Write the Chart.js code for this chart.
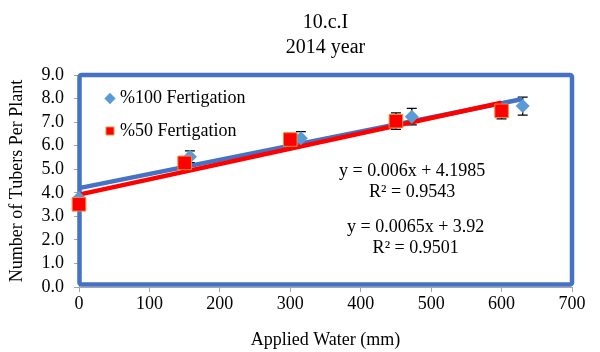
<!DOCTYPE html>
<html>
<head>
<meta charset="utf-8">
<script src="https://cdn.jsdelivr.net/npm/chart.js@4/dist/chart.umd.min.js"></script>
<style>
  html, body { margin: 0; padding: 0; background: #fff; }
  #wrap { width: 600px; height: 352px; }
</style>
</head>
<body>
<div id="wrap"><canvas id="c" width="600" height="352"></canvas></div>
<script>
// ---- data ----
const titleLines = ['10.c.I', '2014 year'];
const xAxisTitle = 'Applied Water (mm)';
const yAxisTitle = 'Number of Tubers Per Plant';
const seriesNames = ['%100 Fertigation', '%50 Fertigation'];

const waterFull = [0, 157.5, 315, 472.5, 630];
const tubersFull = [3.78, 5.53, 6.31, 7.23, 7.68];
const errFull = [0, 0.25, 0.29, 0.35, 0.38];

const waterHalf = [0, 150, 300, 450, 600];
const tubersHalf = [3.51, 5.27, 6.26, 7.04, 7.48];
const errHalf = [0, 0.10, 0.26, 0.35, 0.34];

// trendline (linear fit) coefficients as printed on the chart
const trendFull = { slope: 0.006, intercept: 4.1985, r2: 0.9543 };
const trendHalf = { slope: 0.0065, intercept: 3.92, r2: 0.9501 };
const trendLabels = [
  ['y = 0.006x + 4.1985', 'R² = 0.9543'],
  ['y = 0.0065x + 3.92', 'R² = 0.9501']
];
// label anchor positions (in axis units)
const trendLabelAnchor = [
  { x: 473, y: [4.93, 4.03] },
  { x: 478, y: [2.52, 1.66] }
];

const xMin = 0, xMax = 700, xStep = 100;
const yMin = 0, yMax = 9, yStep = 1;

// ---- build ----
const FONT = "'Liberation Serif', 'Times New Roman', serif";
const pts = (xs, ys) => xs.map((x, i) => ({ x: x, y: ys[i] }));
const trendPts = (xs, t) => [xs[0], xs[xs.length - 1]].map(x => ({ x: x, y: t.intercept + t.slope * x }));

const borderPlugin = {
  id: 'plotBorder',
  beforeDatasetsDraw(chart) {
    const a = chart.chartArea, ctx = chart.ctx;
    ctx.save();
    ctx.strokeStyle = '#4472C4';
    ctx.lineWidth = 4.5;
    ctx.lineJoin = 'round';
    const l = a.left + 0.5, t = a.top, r = a.right, b = a.bottom - 2.5;
    ctx.beginPath();
    if (ctx.roundRect) ctx.roundRect(l, t, r - l, b - t, 2); else ctx.rect(l, t, r - l, b - t);
    ctx.stroke();
    ctx.restore();
  }
};

const errorBarPlugin = {
  id: 'errorBars',
  beforeDatasetsDraw(chart) {
    const xs = chart.scales.x, ys = chart.scales.y, ctx = chart.ctx;
    const sets = [[waterFull, tubersFull, errFull], [waterHalf, tubersHalf, errHalf]];
    ctx.save();
    ctx.strokeStyle = '#000';
    ctx.lineWidth = 1.3;
    sets.forEach(([wx, ty, er]) => {
      wx.forEach((w, i) => {
        if (!er[i]) return;
        const px = xs.getPixelForValue(w);
        const y1 = ys.getPixelForValue(ty[i] + er[i]);
        const y2 = ys.getPixelForValue(ty[i] - er[i]);
        ctx.beginPath();
        ctx.moveTo(px, y1); ctx.lineTo(px, y2);
        ctx.moveTo(px - 5, y1); ctx.lineTo(px + 5, y1);
        ctx.moveTo(px - 5, y2); ctx.lineTo(px + 5, y2);
        ctx.stroke();
      });
    });
    ctx.restore();
  }
};

const trendTextPlugin = {
  id: 'trendText',
  afterDatasetsDraw(chart) {
    const xs = chart.scales.x, ys = chart.scales.y, ctx = chart.ctx;
    ctx.save();
    ctx.fillStyle = '#000';
    ctx.font = '18px ' + FONT;
    ctx.textAlign = 'center';
    ctx.textBaseline = 'middle';
    trendLabels.forEach((lines, k) => {
      const an = trendLabelAnchor[k];
      lines.forEach((txt, j) => {
        ctx.fillText(txt, xs.getPixelForValue(an.x), ys.getPixelForValue(an.y[j]));
      });
    });
    ctx.restore();
  }
};

const legendPlace = {
  id: 'legendPlace',
  afterLayout(chart) {
    const lg = chart.legend, a = chart.chartArea;
    if (lg) {
      lg.left = a.left + 15.5; lg.right = a.right;
      lg.top = a.top; lg.bottom = a.bottom;
    }
  }
};

new Chart(document.getElementById('c'), {
  type: 'scatter',
  data: {
    datasets: [
      {
        label: seriesNames[0],
        data: pts(waterFull, tubersFull),
        pointStyle: 'rectRot',
        pointRadius: 7,
        backgroundColor: '#5B9BD5',
        borderColor: '#5B9BD5',
        borderWidth: 0,
        clip: false,
        order: 1
      },
      {
        label: seriesNames[1],
        data: pts(waterHalf, tubersHalf),
        pointStyle: 'rect',
        pointRadius: 9.6,
        backgroundColor: '#FF0000',
        borderColor: '#F08A3C',
        borderWidth: 1,
        clip: false,
        order: 0
      },
      {
        label: 'trend100',
        type: 'line',
        data: trendPts(waterFull, trendFull),
        borderColor: '#4472C4',
        borderWidth: 4.5,
        pointRadius: 0,
        fill: false,
        clip: false,
        order: 3
      },
      {
        label: 'trend50',
        type: 'line',
        data: trendPts(waterHalf, trendHalf),
        borderColor: '#FF0000',
        borderWidth: 4.5,
        pointRadius: 0,
        fill: false,
        clip: false,
        order: 2
      }
    ]
  },
  options: {
    responsive: false,
    animation: false,
    events: [],
    layout: { padding: { left: 0, right: 28, top: 0, bottom: 0 } },
    plugins: {
      tooltip: { enabled: false },
      title: {
        display: true,
        text: titleLines,
        fullSize: false,
        color: '#000',
        font: { family: FONT, size: 20, weight: 'normal', lineHeight: 1.25 },
        padding: { top: 10, bottom: 15 }
      },
      legend: {
        display: true,
        position: 'chartArea',
        align: 'start',
        labels: {
          usePointStyle: true,
          boxWidth: 2,
          boxHeight: 8,
          padding: 14.5,
          color: '#000',
          font: { family: FONT, size: 18 },
          filter: (item) => item.datasetIndex < 2,
          sort: (a, b) => a.datasetIndex - b.datasetIndex
        }
      }
    },
    scales: {
      x: {
        type: 'linear',
        min: xMin, max: xMax,
        afterFit: (s) => { s.height = 65; },
        ticks: { stepSize: xStep, autoSkip: false, maxRotation: 0, color: '#000', padding: 1, font: { family: FONT, size: 18 } },
        grid: { drawOnChartArea: false, drawTicks: true, tickLength: 5, color: '#A6A6A6' },
        border: { display: true, color: '#A6A6A6' },
        title: { display: true, text: xAxisTitle, color: '#000', font: { family: FONT, size: 18 }, padding: { top: 0, bottom: 1 } }
      },
      y: {
        type: 'linear',
        min: yMin, max: yMax,
        afterFit: (s) => { s.width = 79; },
        ticks: { stepSize: yStep, autoSkip: false, color: '#000', padding: 10, font: { family: FONT, size: 18 },
                 callback: (v) => Number(v).toFixed(1) },
        grid: { drawOnChartArea: false, drawTicks: true, tickLength: 5, color: '#A6A6A6' },
        border: { display: true, color: '#A6A6A6' },
        title: { display: true, text: yAxisTitle, color: '#000', font: { family: FONT, size: 18 }, padding: { top: 6, bottom: 0 } }
      }
    }
  },
  plugins: [borderPlugin, errorBarPlugin, trendTextPlugin, legendPlace]
});
</script>
</body>
</html>
